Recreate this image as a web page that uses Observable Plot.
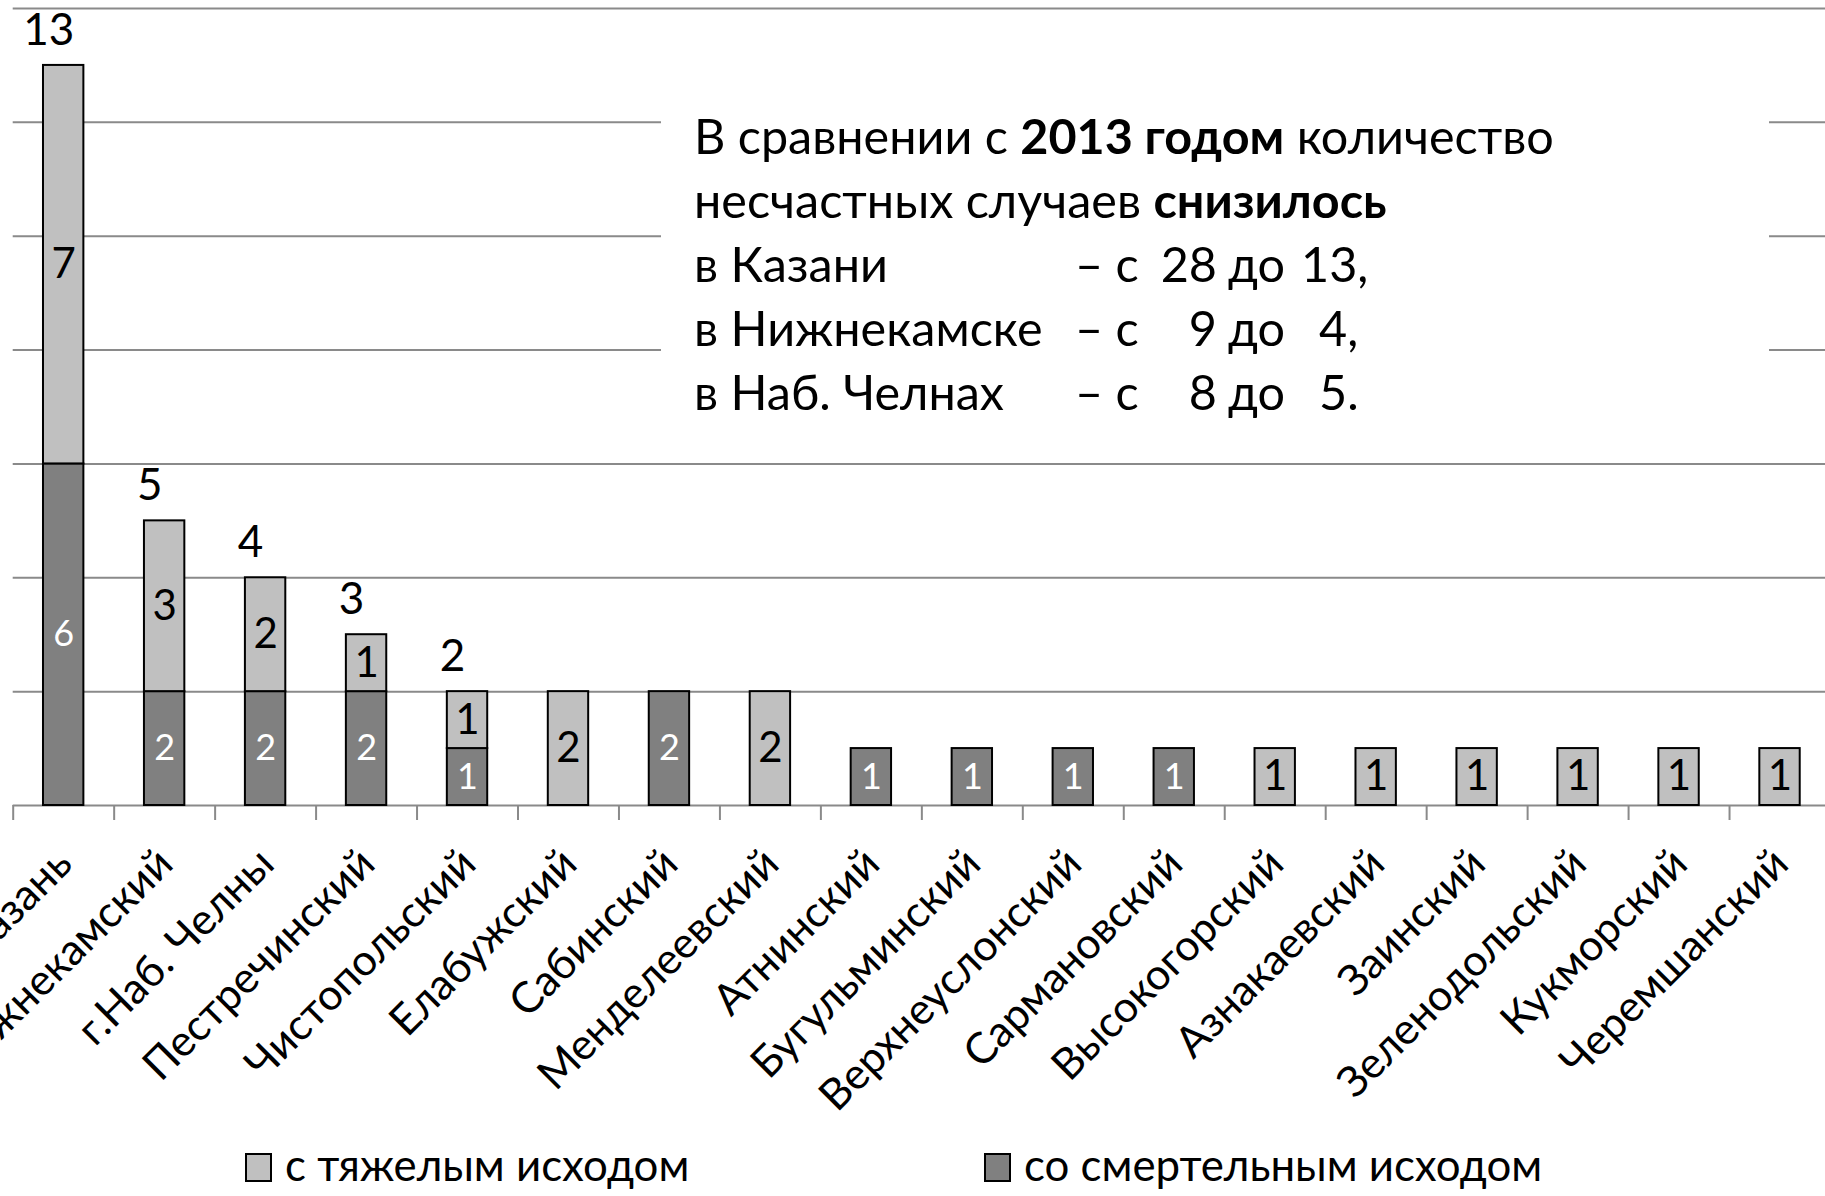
<!DOCTYPE html>
<html><head><meta charset="utf-8">
<script src="https://cdn.jsdelivr.net/npm/d3@7"></script>
<script src="https://cdn.jsdelivr.net/npm/@observablehq/plot@0.6"></script>
<style>
html,body{margin:0;padding:0;background:#fff;overflow:hidden;}
#wrap{position:relative;width:1825px;height:1196px;font-family:Lato, sans-serif;}
#wrap svg{display:block;}
.overlay{position:absolute;left:0;top:0;}
</style></head><body><div id="wrap"></div>
<script>
const categories = ["г.Казань","Нижнекамский","г.Наб. Челны","Пестречинский","Чистопольский","Елабужский","Сабинский","Менделеевский","Атнинский","Бугульминский","Верхнеуслонский","Сармановский","Высокогорский","Азнакаевский","Заинский","Зеленодольский","Кукморский","Черемшанский"];
const seriesNames = ["со смертельным исходом", "с тяжелым исходом"];
const fatal  = [6,2,2,2,1,0,2,0,1,1,1,1,0,0,0,0,0,0];
const severe = [7,3,2,1,1,2,0,2,0,0,0,0,1,1,1,1,1,1];
const yTicks = [0,2,4,6,8,10,12,14];
const noteLines = [
  [["В сравнении с ", false], ["2013 годом", true], [" количество", false]],
  [["несчастных случаев ", false], ["снизилось", true]]
];
const noteRows = [
  ["в Казани", "– с", "28", "до", "13,"],
  ["в Нижнекамске", "– с", "9", "до", "4,"],
  ["в Наб. Челнах", "– с", "8", "до", "5."]
];

const FONT = "Lato, sans-serif";
const fillColors = ["#808080", "#C0C0C0"];

// build stacked segments
const segments = [];
categories.forEach((c, i) => {
  const vals = [fatal[i], severe[i]];
  let base = 0;
  vals.forEach((v, k) => {
    if (v > 0) segments.push({region: c, type: seriesNames[k], value: v, y1: base, y2: base + v, mid: base + v / 2});
    base += v;
  });
});
const totals = categories.map((c, i) => ({region: c, total: fatal[i] + severe[i], both: fatal[i] > 0 && severe[i] > 0})).filter(d => d.both);

const W = 1825, H = 1130;
const chart = Plot.plot({
  width: W, height: H,
  marginTop: 8, marginLeft: 12.7, marginRight: 0, marginBottom: H - 805,
  x: {domain: categories, range: [12.7, 1830], paddingInner: 0.6, paddingOuter: 0.3, round: false, axis: null},
  y: {domain: [0, 14], range: [805, 8], axis: null},
  color: {domain: seriesNames, range: fillColors},
  style: {fontFamily: FONT, background: "white", overflow: "hidden"},
  marks: [
    Plot.ruleY(yTicks, {stroke: "#8a8a8a", strokeWidth: 2}),
    Plot.ruleX(categories, {x: d => d, y1: 0, y2: 0, dx: -50.48, insetBottom: -15, stroke: "#8a8a8a", strokeWidth: 2}),
    Plot.barY(segments, {x: "region", y1: "y1", y2: "y2", fill: "type", stroke: "black", strokeWidth: 2}),
    Plot.text(segments.filter(d => d.type === seriesNames[1]), {x: "region", y: "mid", text: d => String(d.value), fill: "black", fontSize: 42, lineAnchor: "middle"}),
    Plot.text(segments.filter(d => d.type === seriesNames[0]), {x: "region", y: "mid", text: d => String(d.value), fill: "white", fontSize: 36, lineAnchor: "middle"}),
    Plot.text(totals, {x: "region", y: "total", text: d => String(d.total), fill: "black", fontSize: 44, lineAnchor: "middle", dx: -15, dy: -35}),
    Plot.text(categories, {x: d => d, y: () => 0, text: d => d, rotate: -45, textAnchor: "end", lineAnchor: "middle", dy: 51, dx: 1, fontSize: 43, fill: "black"})
  ]
});
const wrap = document.getElementById("wrap");
wrap.appendChild(chart);

// annotation overlay
const ov = d3.select(wrap).append("svg").attr("class", "overlay").attr("width", W).attr("height", H);
ov.append("rect").attr("x", 661).attr("y", 60).attr("width", 1108).attr("height", 380).attr("fill", "white");
const g = ov.append("g").attr("font-family", FONT).attr("font-size", 48.5).attr("fill", "black");
const x0 = 694, base0 = 154, lh = 64;
noteLines.forEach((parts, li) => {
  const t = g.append("text").attr("x", x0).attr("y", base0 + li * lh);
  parts.forEach(([s, b]) => t.append("tspan").attr("font-weight", b ? "bold" : null).text(s));
});
noteRows.forEach((row, ri) => {
  const y = base0 + (ri + 2) * lh;
  g.append("text").attr("x", 694).attr("y", y).text(row[0]);
  g.append("text").attr("x", 1075).attr("y", y).text(row[1]);
  g.append("text").attr("x", 1217).attr("y", y).attr("text-anchor", "end").text(row[2]);
  g.append("text").attr("x", 1228).attr("y", y).text(row[3]);
  g.append("text").attr("x", row[4].length === 3 ? 1301 : 1319).attr("y", y).text(row[4]);
});

// legend below
const lg = d3.select(wrap).append("svg").attr("width", W).attr("height", 1196 - H);
const legendItems = [[seriesNames[1], fillColors[1], 245], [seriesNames[0], fillColors[0], 984]];
legendItems.forEach(([name, col, lx]) => {
  lg.append("rect").attr("x", lx + 1).attr("y", 1153 - H + 1).attr("width", 25).attr("height", 27).attr("fill", col).attr("stroke", "black").attr("stroke-width", 2);
  lg.append("text").attr("x", lx + 40).attr("y", 1181 - H).attr("font-family", FONT).attr("font-size", 43.8).text(name);
});
</script></body></html>
